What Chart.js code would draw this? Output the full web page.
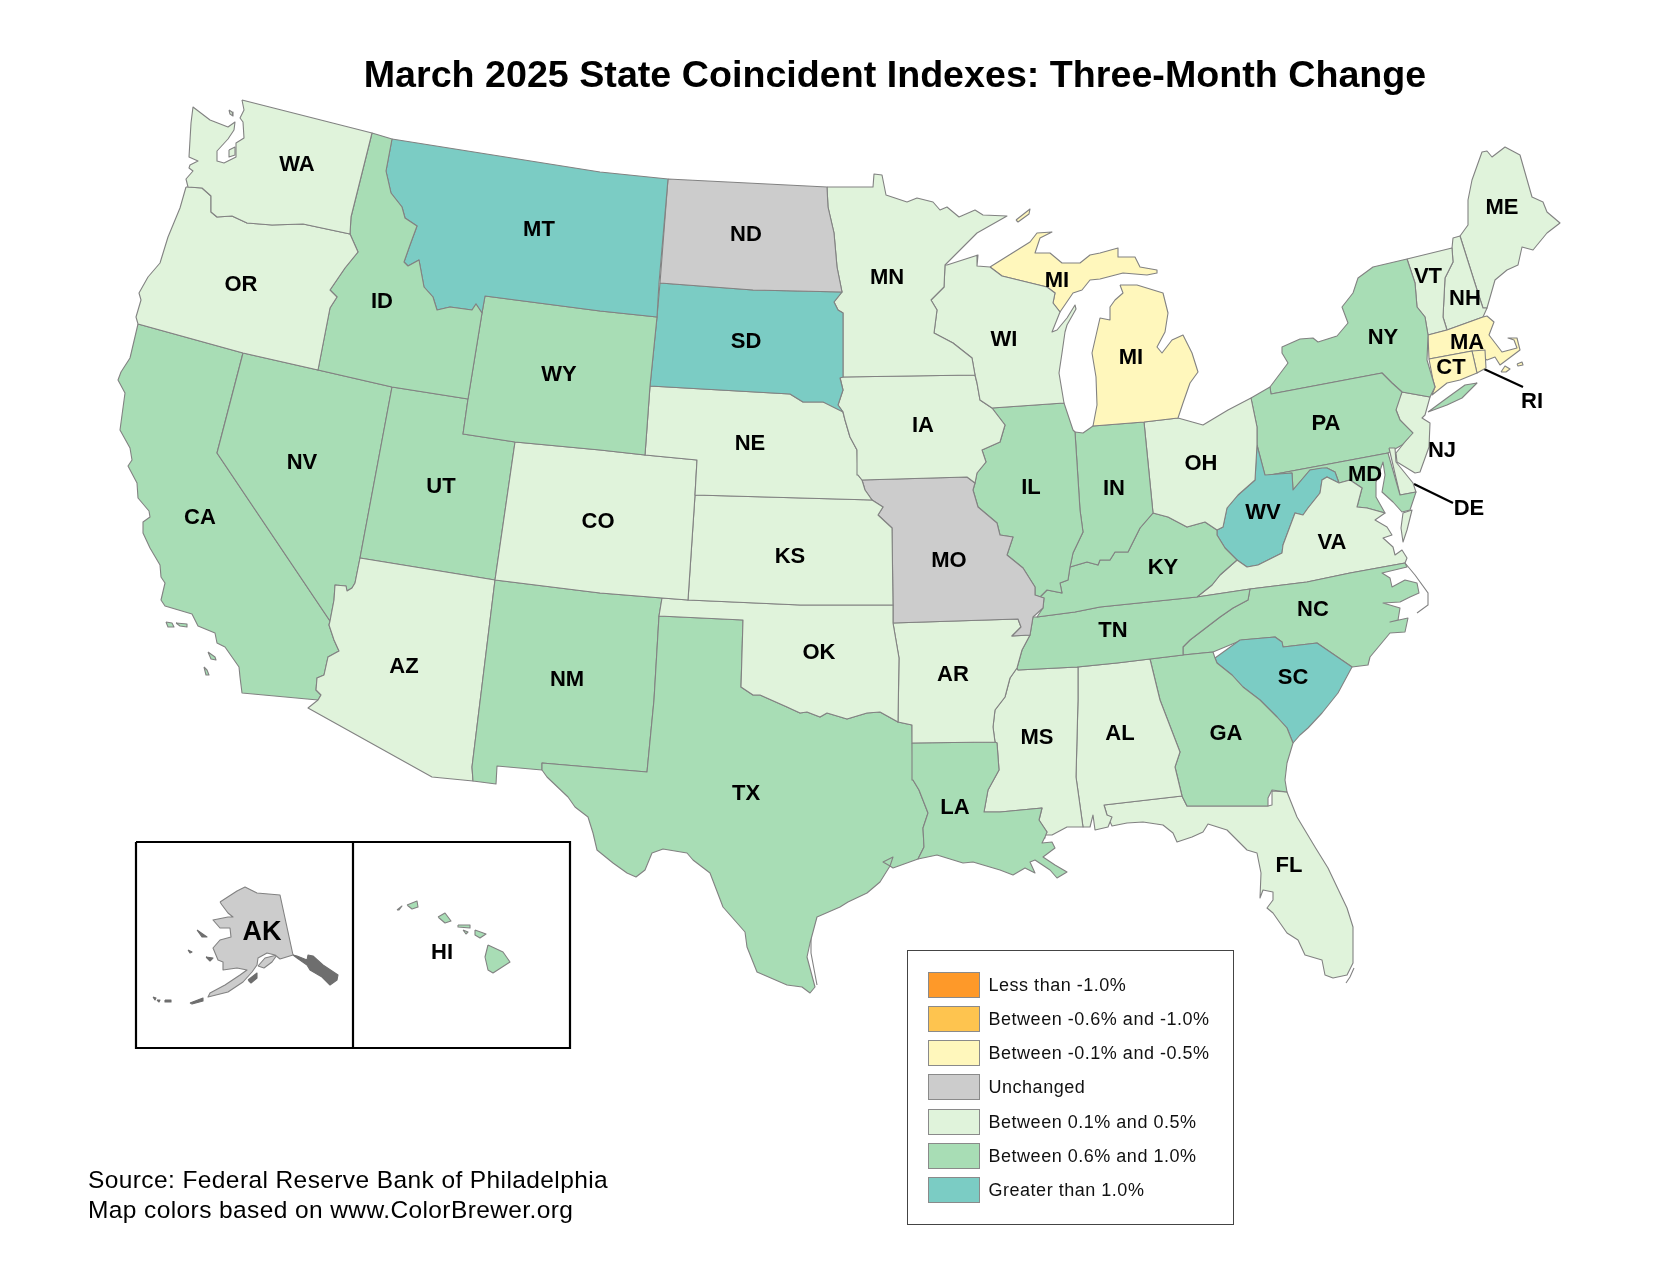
<!DOCTYPE html>
<html>
<head>
<meta charset="utf-8">
<title>March 2025 State Coincident Indexes</title>
<script src="https://cdn.jsdelivr.net/npm/chart.js@4/dist/chart.umd.min.js"></script>
<style>
    html, body { margin: 0; padding: 0; background: #fff; }
    #wrap { position: relative; width: 1674px; height: 1262px; overflow: hidden; font-family: "Liberation Sans", Arial, sans-serif; color: #000; }
    #mapChart { position: absolute; left: 0; top: 0; }
    #title { position: absolute; left: 295px; width: 1200px; top: 50px; text-align: center; font-size: 37.65px; font-weight: bold; line-height: 48px; white-space: nowrap; }
    #source { position: absolute; left: 88px; top: 1165px; font-size: 24.5px; line-height: 30px; letter-spacing: 0.4px; white-space: nowrap; }
    #legend { position: absolute; left: 907px; top: 950px; width: 327px; height: 275px; border: 1.5px solid #444; box-sizing: border-box; }
    .row { position: absolute; left: 20px; height: 26px; white-space: nowrap; font-size: 18px; line-height: 26px; letter-spacing: 0.52px; color: #111; }
    .swatch { display: inline-block; box-sizing: border-box; width: 52px; height: 26px; border: 1.5px solid #8a8a8a; vertical-align: top; margin-right: 8.5px; }
</style>
</head>
<body>
<div id="wrap">
    <canvas id="mapChart" width="1674" height="1262"></canvas>
    <div id="title"></div>
    <div id="source"></div>
    <div id="legend"></div>
</div>
<script>
const titleText = 'March 2025 State Coincident Indexes: Three-Month Change';
const sourceLines = ['Source: Federal Reserve Bank of Philadelphia', 'Map colors based on www.ColorBrewer.org'];

// legend classes
const legendLabels = ['Less than -1.0%', 'Between -0.6% and -1.0%', 'Between -0.1% and -0.5%', 'Unchanged',
    'Between 0.1% and 0.5%', 'Between 0.6% and 1.0%', 'Greater than 1.0%'];
const legendColors = ['#fe9929', '#fec44f', '#fff7bc', '#cccccc', '#e0f3db', '#a8ddb5', '#7bccc4'];

// state -> index into the legend classes
const stateCodes = ['WA','OR','ID','MT','WY','ND','SD','MN','WI','MI','IA','NE','CO','KS','OK','MO','AR','LA','TX','NM','AZ','UT','NV','CA','IL','IN','OH','KY','TN','MS','AL','GA','FL','SC','NC','VA','WV','MD','DE','PA','NY','NJ','CT','RI','MA','VT','NH','ME','AK','HI'];
const stateClass = [4,4,5,6,5,3,6,4,4,2,4,4,4,4,4,3,4,5,5,5,4,5,5,5,5,5,4,5,5,4,4,5,4,6,5,4,6,5,4,5,5,4,2,2,2,4,4,4,3,5];

// outlines in map units, x0,y0,x1,y1,...
const WA = [242,100,372,133,351,217,350,234,303,224,272,225,247,223,232,216,217,217,211,212,211,196,202,188,188,187,186,179,193,171,189,168,190,165,198,161,189,157,191,123,193,107,210,120,228,127,235,122,234,130,228,139,217,151,217,161,224,163,230,160,236,157,236,143,244,138,243,122,240,118,244,110];
const WA_ISLE_A = [229,150,235,147,235,155,229,157];
const WA_ISLE_B = [229,110,232,112,233,116,230,114];
const OR = [186,187,188,187,202,188,211,196,211,212,217,217,232,216,247,223,272,225,303,224,350,234,358,252,345,268,330,290,337,297,330,308,318,370,243,353,138,324,136,317,141,300,139,293,148,277,160,263,168,237,180,208];
const ID = [372,133,392,139,386,171,391,193,402,207,405,218,417,226,410,245,404,262,408,266,419,260,424,287,433,297,437,310,450,307,472,310,476,304,482,313,468,399,392,387,318,370,330,308,337,297,330,290,345,268,358,252,350,234,351,217];
const MT = [392,139,600,172,668,179,659,283,657,317,600,311,485,296,482,313,476,304,472,310,450,307,437,310,433,297,424,287,419,260,408,266,404,262,410,245,417,226,405,218,402,207,391,193,386,171];
const WY = [485,296,600,311,657,317,650,386,645,455,600,450,515,442,463,434,468,399,482,313];
const ND = [668,179,827,187,828,207,834,233,837,267,842,292,753,290,660,283];
const SD = [660,283,753,290,842,292,834,302,838,310,843,313,843,377,840,378,843,390,838,405,843,412,823,402,803,402,790,394,650,386,657,317];
const MN = [827,187,873,187,874,174,882,175,886,195,907,202,917,198,933,202,940,210,947,207,959,217,975,210,983,215,1007,216,977,233,945,265,944,287,931,300,937,310,934,333,953,343,972,358,975,375,843,377,843,313,838,310,834,302,842,292,837,267,834,233,828,207];
const WI = [947,265,978,255,977,266,990,267,1002,276,1047,287,1055,293,1053,303,1060,312,1056,322,1052,332,1057,330,1067,318,1075,305,1076,309,1067,325,1065,332,1062,353,1059,373,1064,403,992,408,980,400,977,383,975,375,972,358,953,343,934,333,937,310,931,300,944,287,945,265];
const MI_UP = [990,267,1030,242,1037,233,1052,232,1040,238,1035,253,1050,253,1062,263,1080,263,1090,255,1100,253,1118,248,1118,257,1135,257,1140,267,1157,270,1157,273,1147,275,1123,273,1100,279,1090,280,1082,290,1073,293,1060,312,1053,303,1055,293,1047,287,1002,276];
const MI_LP = [1120,285,1137,285,1163,293,1168,313,1165,332,1157,347,1162,353,1172,340,1183,335,1192,353,1198,372,1190,383,1183,403,1178,418,1144,422,1093,426,1097,405,1096,377,1092,353,1100,318,1110,320,1110,307,1115,300,1123,293];
const MI_ISLE = [1016,220,1030,209,1029,214,1018,222];
const IA = [840,377,975,375,977,383,980,400,992,408,1005,425,1000,442,982,450,986,462,977,473,975,483,967,477,862,480,858,475,857,450,850,437,845,420,843,412,838,405,843,390];
const NE = [650,386,790,394,803,402,823,402,838,405,843,412,845,420,850,437,857,450,858,475,862,480,865,490,872,500,695,495,697,460,645,455];
const CO = [515,442,600,450,645,455,697,460,695,495,688,600,662,598,600,593,495,580];
const KS = [695,495,872,500,883,507,878,515,892,528,893,605,800,605,688,600];
const OK = [662,598,688,600,800,605,893,605,893,623,899,658,898,722,880,712,867,713,847,719,827,713,820,717,807,712,800,713,787,707,760,695,753,695,741,687,743,620,659,616];
const NM = [495,580,600,593,662,598,659,616,654,700,647,772,542,763,542,770,497,766,496,784,473,781,472,767];
const TX = [659,616,743,620,741,687,753,695,760,695,787,707,800,713,807,712,820,717,827,713,847,719,867,713,880,712,898,722,912,725,913,780,919,790,928,813,923,828,924,847,918,859,893,868,890,866,883,862,893,857,890,866,880,882,867,893,848,902,840,907,817,917,810,943,807,957,815,987,810,993,802,987,787,985,757,972,747,947,745,932,723,907,710,873,693,860,687,853,663,849,652,853,645,870,636,877,627,873,613,863,597,850,593,833,588,817,575,807,568,797,547,777,542,770,542,763,647,772,654,700];
const LA = [912,743,995,742,997,743,999,770,988,790,984,812,1000,812,1042,808,1039,820,1047,832,1045,837,1042,843,1052,842,1055,848,1043,857,1055,865,1067,872,1057,878,1050,870,1035,860,1030,862,1035,873,1025,868,1013,875,1000,870,973,862,963,863,937,855,918,859,924,847,923,828,928,813,919,790,913,780];
const LA_POND = [1024,838,1030,833,1043,833,1045,838,1036,842,1025,842];
const AR = [893,623,1018,619,1021,627,1012,636,1030,635,1022,650,1017,668,1010,678,1005,697,995,710,993,727,995,742,912,743,912,725,898,722,899,658];
const MO = [862,480,967,477,975,483,973,490,978,507,997,523,1000,535,1013,537,1007,555,1023,568,1035,587,1035,595,1044,598,1043,608,1033,617,1030,635,1012,636,1021,627,1018,619,893,623,893,605,892,528,878,515,883,507,872,500,865,490];
const IL = [992,408,1064,403,1073,430,1075,432,1080,510,1083,532,1073,553,1070,567,1068,580,1060,583,1062,593,1047,590,1040,597,1035,595,1035,587,1023,568,1007,555,1013,537,1000,535,997,523,978,507,973,490,975,483,977,473,986,462,982,450,1000,442,1005,425];
const IN = [1075,432,1083,433,1093,426,1144,422,1153,513,1140,528,1128,552,1115,552,1110,560,1100,560,1098,565,1087,562,1070,567,1073,553,1083,532,1080,510];
const OH = [1144,422,1178,418,1203,425,1228,410,1251,398,1257,427,1257,445,1255,480,1238,495,1227,508,1223,527,1217,530,1205,522,1187,527,1168,517,1153,513];
const KY = [1153,513,1168,517,1187,527,1205,522,1217,530,1217,535,1225,548,1237,560,1220,575,1212,585,1197,597,1100,607,1075,612,1037,617,1043,608,1044,598,1040,597,1047,590,1062,593,1060,583,1068,580,1070,567,1087,562,1098,565,1100,560,1110,560,1115,552,1128,552,1140,528];
const TN = [1037,617,1075,612,1100,607,1197,597,1250,589,1248,600,1233,608,1220,617,1190,640,1183,647,1183,655,1150,659,1117,663,1077,667,1018,670,1017,668,1022,650,1030,635,1033,617];
const VA = [1197,597,1250,589,1307,582,1350,573,1405,563,1407,558,1402,550,1395,555,1393,547,1383,538,1392,535,1387,527,1375,520,1385,513,1367,508,1357,507,1362,488,1350,480,1339,483,1327,477,1322,480,1320,493,1308,508,1303,515,1295,513,1283,545,1282,553,1258,565,1247,567,1237,560,1220,575,1212,585];
const VA_SHORE = [1403,513,1412,510,1407,530,1403,542,1401,528];
const WV = [1257,445,1265,475,1292,473,1293,490,1310,470,1322,468,1327,468,1335,472,1339,483,1327,477,1322,480,1320,493,1308,508,1303,515,1295,513,1283,545,1282,553,1258,565,1247,567,1237,560,1225,548,1217,535,1217,530,1223,527,1227,508,1238,495,1255,480];
const PA = [1251,398,1270,387,1271,394,1382,373,1392,383,1402,392,1396,410,1400,420,1413,433,1402,445,1388,453,1265,476,1257,445,1257,427];
const NY = [1270,387,1288,363,1282,353,1282,347,1300,339,1313,338,1318,342,1337,336,1348,323,1342,307,1353,293,1358,278,1373,267,1407,259,1415,283,1417,307,1425,317,1428,335,1427,360,1435,387,1430,397,1402,392,1392,383,1382,373,1271,394];
const NY_LONG = [1428,412,1447,398,1465,385,1477,383,1462,398,1447,405];
const VT = [1407,259,1452,248,1453,262,1445,278,1443,317,1447,330,1428,335,1425,317,1417,307,1415,283];
const NH = [1452,248,1453,238,1460,236,1478,293,1483,308,1487,308,1483,317,1447,330,1443,317,1445,278,1453,262];
const ME = [1460,236,1468,225,1468,200,1472,180,1482,152,1487,151,1492,157,1505,147,1520,155,1532,197,1543,202,1547,212,1560,223,1547,233,1533,250,1522,247,1518,265,1507,270,1495,280,1487,308,1483,308,1478,293];
const MA = [1428,335,1447,330,1483,317,1487,316,1494,322,1489,335,1502,352,1517,348,1514,340,1508,338,1517,338,1520,350,1500,365,1495,357,1487,360,1472,351,1429,359];
const MA_ISLE_A = [1501,372,1505,366,1510,369,1506,372];
const MA_ISLE_B = [1517,364,1522,362,1523,365,1518,366];
const RI = [1472,351,1485,350,1486,368,1477,373];
const CT = [1429,359,1472,351,1477,373,1460,380,1447,383,1432,395,1435,387,1433,380];
const NJ = [1402,392,1430,397,1425,415,1422,418,1430,423,1429,447,1420,472,1415,473,1397,462,1396,453,1412,433,1400,420,1395,407];
const DE = [1389,448,1395,448,1396,462,1413,483,1416,492,1400,495];
const MD = [1265,476,1388,453,1400,495,1416,492,1410,510,1402,512,1393,502,1382,492,1385,475,1383,462,1376,482,1376,497,1385,513,1367,508,1357,507,1362,488,1350,480,1339,483,1335,472,1327,468,1310,470,1293,490,1292,473];
const NC = [1250,589,1307,582,1350,573,1405,563,1407,567,1382,573,1390,578,1392,587,1405,580,1417,583,1419,593,1410,597,1400,602,1383,603,1400,608,1398,620,1390,622,1408,618,1405,632,1390,633,1370,657,1368,665,1352,667,1317,643,1283,647,1282,642,1275,637,1242,640,1213,652,1183,655,1183,647,1190,640,1220,617,1233,608,1248,600];
const SC = [1215,658,1240,640,1275,637,1282,642,1283,647,1317,643,1352,667,1338,693,1322,713,1308,728,1300,735,1293,743,1287,728,1277,717,1260,700,1243,687,1232,675,1217,663];
const GA = [1150,659,1183,655,1213,652,1215,658,1217,663,1232,675,1243,687,1260,700,1277,717,1287,728,1293,743,1287,763,1285,780,1287,792,1272,790,1268,798,1268,806,1187,806,1182,796,1175,767,1180,752,1160,700];
const AL = [1078,667,1117,663,1150,659,1160,700,1180,752,1175,767,1182,796,1104,805,1107,815,1112,817,1108,827,1095,830,1093,815,1090,827,1083,827,1076,777,1078,700];
const MS = [1018,670,1078,667,1078,700,1076,777,1083,827,1067,827,1052,835,1045,835,1047,832,1039,820,1042,808,1000,812,984,812,988,790,999,770,997,743,995,742,993,727,995,710,1005,697,1010,678,1017,668];
const FL = [1104,805,1182,796,1187,806,1268,806,1272,805,1272,791,1287,792,1297,817,1315,847,1328,868,1347,908,1353,927,1353,963,1347,975,1333,978,1325,975,1322,960,1305,955,1298,940,1287,933,1273,913,1267,908,1273,900,1273,892,1263,890,1260,898,1261,873,1257,853,1247,850,1227,830,1208,824,1203,832,1192,837,1177,842,1173,833,1163,825,1143,822,1127,823,1112,826,1107,815];
const CA = [138,324,243,353,217,453,330,621,329,625,334,640,339,651,328,657,324,675,317,678,316,690,321,695,318,700,242,693,240,677,239,667,225,647,217,643,215,633,198,626,192,614,165,606,161,600,165,583,161,577,160,565,150,548,143,533,143,522,150,517,149,511,138,498,137,483,128,466,132,460,130,448,120,430,125,393,118,380,121,372,130,358];
const CA_BAY = [143,470,147,465,150,470,165,472,168,474,150,472,145,477,152,492,143,487,142,477];
const CA_ISLE_A = [166,622,172,623,174,627,168,627];
const CA_ISLE_B = [176,623,187,624,187,627,180,626];
const CA_ISLE_C = [208,652,215,657,216,660,211,659];
const CA_ISLE_D = [204,667,207,670,209,675,206,675];
const NV = [243,353,318,370,392,387,360,558,355,583,352,588,347,591,346,586,335,585,334,600,330,621,217,453];
const UT = [392,387,468,399,463,434,515,442,495,580,360,558];
const AZ = [360,558,495,580,472,767,473,781,432,777,308,708,318,700,321,695,316,690,317,678,324,675,328,657,339,651,334,640,329,625,330,621,334,600,335,585,346,586,347,591,352,588,355,583];
const HI_BIG = [488,945,503,952,510,962,493,973,488,970,485,957];
const HI_MAUI = [475,930,486,934,480,938,475,935];
const HI_MOLOKAI = [458,925,470,925,470,928,458,927];
const HI_LANAI = [463,930,468,932,466,934];
const HI_OAHU = [438,917,445,913,451,921,445,923];
const HI_KAUAI = [407,905,417,901,418,907,412,909];
const HI_NIIHAU = [397,910,402,906,399,910];
const AK = [220,902,237,891,245,887,257,893,280,895,293,955,280,959,275,955,267,953,258,958,257,965,252,972,243,982,228,992,208,997,210,993,225,985,240,975,247,970,237,968,223,970,223,962,218,960,213,948,220,940,231,937,230,928,220,928,213,920,228,917,233,917,228,913,222,905];
const AK_KENAI = [258,966,265,958,277,955,272,962,264,968];
const AK_SE = [293,955,297,956,307,960,308,955,313,956,323,965,338,975,337,980,330,985,322,977,310,970,307,965,297,958];
const AK_KODIAK = [248,980,257,973,257,978,251,983];
const AK_ALEUT_A = [190,1003,203,998,203,1001,192,1004];
const AK_ALEUT_B = [165,1000,171,1000,171,1002,165,1002];
const AK_ALEUT_C = [153,997,156,998,155,1000];
const AK_ALEUT_D = [157,1000,160,1000,159,1002];
const AK_LAWRENCE = [197,930,207,937,202,937];
const AK_NUNIVAK = [206,957,213,958,210,961];
const AK_MATTHEW = [188,950,192,952,190,953];

const stateRings = {
    WA: [WA, WA_ISLE_A, WA_ISLE_B], OR: [OR], ID: [ID], MT: [MT], WY: [WY], ND: [ND], SD: [SD], MN: [MN], WI: [WI],
    MI: [MI_UP, MI_LP, MI_ISLE], IA: [IA], NE: [NE], CO: [CO], KS: [KS], OK: [OK], MO: [MO], AR: [AR],
    LA: [LA], TX: [TX], NM: [NM], AZ: [AZ], UT: [UT], NV: [NV],
    CA: [CA, CA_ISLE_A, CA_ISLE_B, CA_ISLE_C, CA_ISLE_D], IL: [IL], IN: [IN], OH: [OH], KY: [KY], TN: [TN],
    MS: [MS], AL: [AL], GA: [GA], FL: [FL], SC: [SC], NC: [NC], VA: [VA, VA_SHORE], WV: [WV], MD: [MD],
    DE: [DE], PA: [PA], NY: [NY, NY_LONG], NJ: [NJ], CT: [CT], RI: [RI], MA: [MA, MA_ISLE_A, MA_ISLE_B],
    VT: [VT], NH: [NH], ME: [ME], AK: [AK, AK_KENAI],
    HI: [HI_BIG, HI_MAUI, HI_MOLOKAI, HI_LANAI, HI_OAHU, HI_KAUAI, HI_NIIHAU]
};
const darkRings = [AK_SE, AK_KODIAK, AK_ALEUT_A, AK_ALEUT_B, AK_ALEUT_C, AK_ALEUT_D, AK_LAWRENCE, AK_NUNIVAK, AK_MATTHEW];
const waterRings = [LA_POND, CA_BAY];

// thin coast details with no fill of their own
const NC_BANKS = [1405,563,1415,575,1428,593,1428,605,1417,613];
const TX_PADRE = [817,915,811,935,811,953,817,985];
const FL_KEYS = [1354,968,1350,977,1346,983];
const FL_RIVER = [1317,855,1325,866,1327,868,1321,862];
const MISSISSIPPI = [1033,617,1030,633,1027,643,1021,650,1021,660,1016,668,1012,675,1008,683,1006,693,998,700,995,710,993,722,997,733,995,745];
const coastLines = [NC_BANKS, TX_PADRE, FL_KEYS, FL_RIVER, MISSISSIPPI];

// label anchors
const labelPos = {
    WA:[297,165], OR:[241,285], ID:[382,302], MT:[539,230], WY:[559,375], ND:[746,235], SD:[746,342], MN:[887,278], WI:[1004,340],
    IA:[923,426], NE:[750,444], CO:[598,522], KS:[790,557], OK:[819,653], MO:[949,561], AR:[953,675], LA:[955,808], TX:[746,794],
    NM:[567,680], AZ:[404,667], UT:[441,487], NV:[302,463], CA:[200,518], IL:[1031,488], IN:[1114,489], OH:[1201,464], KY:[1163,568],
    TN:[1113,631], MS:[1037,738], AL:[1120,734], GA:[1226,734], FL:[1289,866], SC:[1293,678], NC:[1313,610], VA:[1332,543], WV:[1263,513],
    MD:[1365,475], DE:[1469,509], PA:[1326,424], NY:[1383,338], NJ:[1442,451], CT:[1451,368], RI:[1532,402], MA:[1467,343],
    VT:[1428,277], NH:[1465,299], ME:[1502,208], HI:[442,953]
};
const extraLabels = [['MI', 1057, 281], ['MI', 1131, 358], ['AK', 262, 933]];

// leader lines and inset frame
const leaderRI = [1484,369,1523,387];
const leaderDE = [1414,484,1453,503];
const insetFrame = [136,842,570,842,570,1048,136,1048,136,842];
const insetDivider = [353,842,353,1048];

function toPoints(flat, close) {
    const pts = [];
    for (let i = 0; i < flat.length; i += 2) {
        pts.push({ x: flat[i], y: flat[i + 1] });
    }
    if (close) pts.push({ x: flat[0], y: flat[1] });
    return pts;
}

function createArea(label, flat, color, edge) {
    return {
        label: label,
        data: toPoints(flat, true),
        showLine: true,
        fill: 'shape',
        backgroundColor: color,
        borderColor: edge,
        borderWidth: 1.1,
        borderJoinStyle: 'round',
        pointRadius: 0,
        tension: 0
    };
}

function createStroke(label, flat, color, width) {
    return {
        label: label,
        data: toPoints(flat, false),
        showLine: true,
        fill: false,
        borderColor: color,
        borderWidth: width,
        pointRadius: 0,
        tension: 0
    };
}

function buildDatasets() {
    const datasets = [];
    stateCodes.forEach((code, i) => {
        stateRings[code].forEach(ring => {
            datasets.push(createArea(code, ring, legendColors[stateClass[i]], '#828282'));
        });
    });
    darkRings.forEach(ring => datasets.push(createArea('AK', ring, '#6e6e6e', '#6e6e6e')));
    waterRings.forEach(ring => datasets.push(createArea('water', ring, '#ffffff', '#828282')));
    coastLines.forEach(line => datasets.push(createStroke('coast', line, '#828282', 1.1)));
    datasets.push(createStroke('RI leader', leaderRI, '#000000', 2.2));
    datasets.push(createStroke('DE leader', leaderDE, '#000000', 2.2));
    datasets.push(createStroke('inset', insetFrame, '#000000', 2.2));
    datasets.push(createStroke('inset', insetDivider, '#000000', 2.2));
    return datasets;
}

// state abbreviations are drawn on the map through the scales
const stateLabels = {
    id: 'stateLabels',
    afterDatasetsDraw(chart) {
        const { ctx, scales: { x, y } } = chart;
        ctx.save();
        ctx.fillStyle = '#000';
        ctx.textAlign = 'center';
        ctx.textBaseline = 'middle';
        ctx.font = 'bold 22px "Liberation Sans", Arial, sans-serif';
        Object.keys(labelPos).forEach(code => {
            ctx.fillText(code, x.getPixelForValue(labelPos[code][0]), y.getPixelForValue(labelPos[code][1]));
        });
        extraLabels.forEach(([code, lx, ly]) => {
            ctx.font = (code === 'AK' ? 'bold 27px' : 'bold 22px') + ' "Liberation Sans", Arial, sans-serif';
            ctx.fillText(code, x.getPixelForValue(lx), y.getPixelForValue(ly));
        });
        ctx.restore();
    }
};

new Chart(document.getElementById('mapChart').getContext('2d'), {
    type: 'scatter',
    data: { datasets: buildDatasets() },
    options: {
        responsive: false,
        animation: false,
        devicePixelRatio: 1,
        layout: { padding: 0 },
        plugins: { legend: { display: false }, tooltip: { enabled: false }, title: { display: false } },
        scales: {
            x: { type: 'linear', min: 0, max: 1674, display: false },
            y: { type: 'linear', min: 0, max: 1262, reverse: true, display: false }
        }
    },
    plugins: [stateLabels]
});

document.getElementById('title').textContent = titleText;
document.getElementById('source').innerHTML = sourceLines.join('<br>');
const legendEl = document.getElementById('legend');
legendLabels.forEach((text, i) => {
    const row = document.createElement('div');
    row.className = 'row';
    row.style.top = (20.5 + i * 34.3) + 'px';
    const swatch = document.createElement('span');
    swatch.className = 'swatch';
    swatch.style.background = legendColors[i];
    row.appendChild(swatch);
    row.appendChild(document.createTextNode(text));
    legendEl.appendChild(row);
});
</script>
</body>
</html>
